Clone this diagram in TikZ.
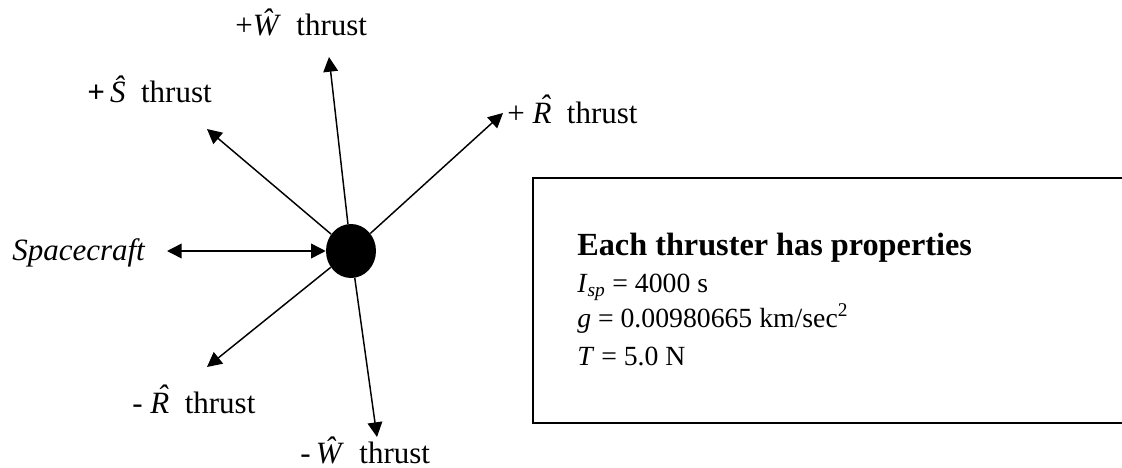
\RequirePackage{fix-cm}
\documentclass[tikz,border=0pt]{standalone}
\usepackage{fontspec}
\setmainfont{Liberation Serif}
\usetikzlibrary{arrows.meta,shapes.geometric}
\newcommand{\Rhat}{\makebox[0pt][l]{\hspace{0.22em}\raisebox{0.22em}{\textit{ˆ}}}\textit{R}}
\tikzset{
  arr/.style={-{Triangle[length=11pt,width=11pt]}, line width=1.1pt},
  darr/.style={{Triangle[length=11pt,width=11pt]}-{Triangle[length=11pt,width=11pt]}, line width=1.1pt},
  lbl/.style={anchor=base west, inner sep=0pt, font=\fontsize{23.25}{28}\selectfont},
  boxtxt/.style={anchor=base west, inner sep=0pt, font=\fontsize{20.8}{26}\selectfont},
  boxhead/.style={anchor=base west, inner sep=0pt, font=\fontsize{24.2}{29}\selectfont\bfseries},
}
\begin{document}
\begin{tikzpicture}[x=0.75pt,y=-0.75pt]
\useasboundingbox (0,0) rectangle (1122,468);
% spacecraft body
\node[ellipse, fill=black, inner sep=0pt, minimum width=37.5pt, minimum height=40.5pt] (c) at (351,251) {};
% arrow tips
\coordinate (tW) at (329,57);
\coordinate (tS) at (207,129);
\coordinate (tR) at (503,113);
\coordinate (tmR) at (207,367);
\coordinate (tmW) at (377,437);
\coordinate (sc) at (167,251);
\draw[arr] (c) -- (tW);
\draw[arr] (c) -- (tS);
\draw[arr] (c) -- (tR);
\draw[arr] (c) -- (tmR);
\draw[arr] (c) -- (tmW);
\draw[darr] (sc) -- (c.west);
% labels
\node[lbl] (lW) at (235,35) {+\textit{Ŵ}\ \ thrust};
\node[lbl] (lS) at (87,102) {\textbf{+}\,\textit{Ŝ}\ \ thrust};
\node[lbl] (lR) at (507,123) {+ \Rhat\ \ thrust};
\node[lbl] (lsc) at (12,260) {\textit{Spacecraft}};
\node[lbl] (lmR) at (132,413) {- \Rhat\ \ thrust};
\node[lbl] (lmW) at (300,463) {-\,\textit{Ŵ}\ \ thrust};
% property box
\draw[line width=1.5pt] (1140,178) -- (533,178) -- (533,423) -- (1140,423);
\node[boxhead] (h) at (577,255) {Each thruster has properties};
\node[boxtxt] (p1) at (577,292) {\textit{I}\textsubscript{\textit{sp}} = 4000 s};
\node[boxtxt] (p2) at (577,327) {\textit{g} = 0.00980665 km/sec\textsuperscript{2}};
\node[boxtxt] (p3) at (577,365) {\textit{T} = 5.0 N};
\end{tikzpicture}
\end{document}
